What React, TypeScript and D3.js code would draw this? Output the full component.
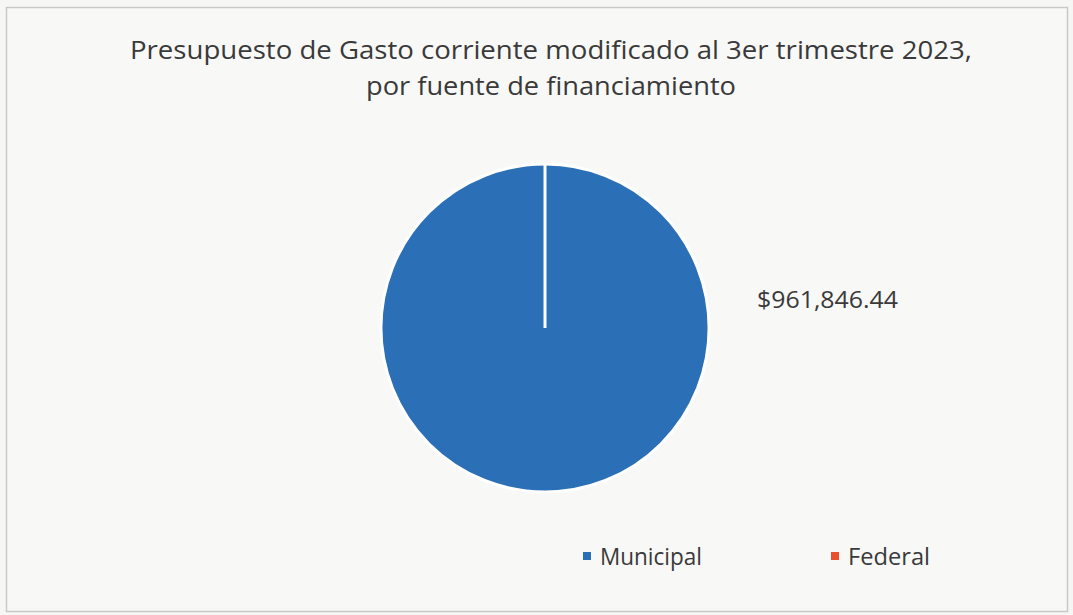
import React from 'react';
import * as d3 from 'd3';

const categories = ['Municipal', 'Federal'];
const values = [961846.44, 0];
const colors = ['#2B6FB7', '#E8502E'];
const titleLines = [
    'Presupuesto de Gasto corriente modificado al 3er trimestre 2023,',
    'por fuente de financiamiento',
];
const valueLabel = '$961,846.44';

const W = 1073;
const H = 615;
const FONT = '"Open Sans", "Noto Sans", sans-serif';

export default function App() {
    const cx = 545;
    const cy = 328;
    const r = 164;

    const pie = d3.pie<number>().sort(null).value((d) => d);
    const arcs = pie(values);
    const arc = d3.arc<d3.PieArcDatum<number>>().innerRadius(0).outerRadius(r);

    const legendX = d3.scalePoint<string>().domain(categories).range([587, 835]);
    const titleWidths = [842, 370];

    return (
        <svg
            width={W}
            height={H}
            style={{ position: 'absolute', left: 0, top: 0, background: '#f6f6f5' }}
            fontFamily={FONT}
        >
            <rect x={6.5} y={7.5} width={1061} height={604} fill="#f8f8f7" stroke="#c9c9c9" strokeWidth={1.5} />

            {titleLines.map((t, i) => (
                <text
                    key={i}
                    x={551}
                    y={59 + i * 36}
                    textAnchor="middle"
                    fontSize={25.5}
                    fill="#3a3a3a"
                    textLength={titleWidths[i]}
                    lengthAdjust="spacingAndGlyphs"
                >
                    {t}
                </text>
            ))}

            <g transform={`translate(${cx},${cy})`}>
                {arcs.map((a, i) => (
                    <path key={categories[i]} d={arc(a) ?? ''} fill={colors[i]} stroke="#fff" strokeWidth={3} />
                ))}
            </g>

            <text x={757} y={308} fontSize={24} fill="#3a3a3a" textLength={141} lengthAdjust="spacingAndGlyphs">
                {valueLabel}
            </text>

            {categories.map((c, i) => (
                <g key={c} transform={`translate(${legendX(c)},0)`}>
                    <rect x={-4} y={552} width={8} height={8} fill={colors[i]} />
                    <text
                        x={13}
                        y={565}
                        fontSize={23}
                        fill="#3a3a3a"
                        textLength={i === 0 ? 102 : 82}
                        lengthAdjust="spacingAndGlyphs"
                    >
                        {c}
                    </text>
                </g>
            ))}
        </svg>
    );
}
